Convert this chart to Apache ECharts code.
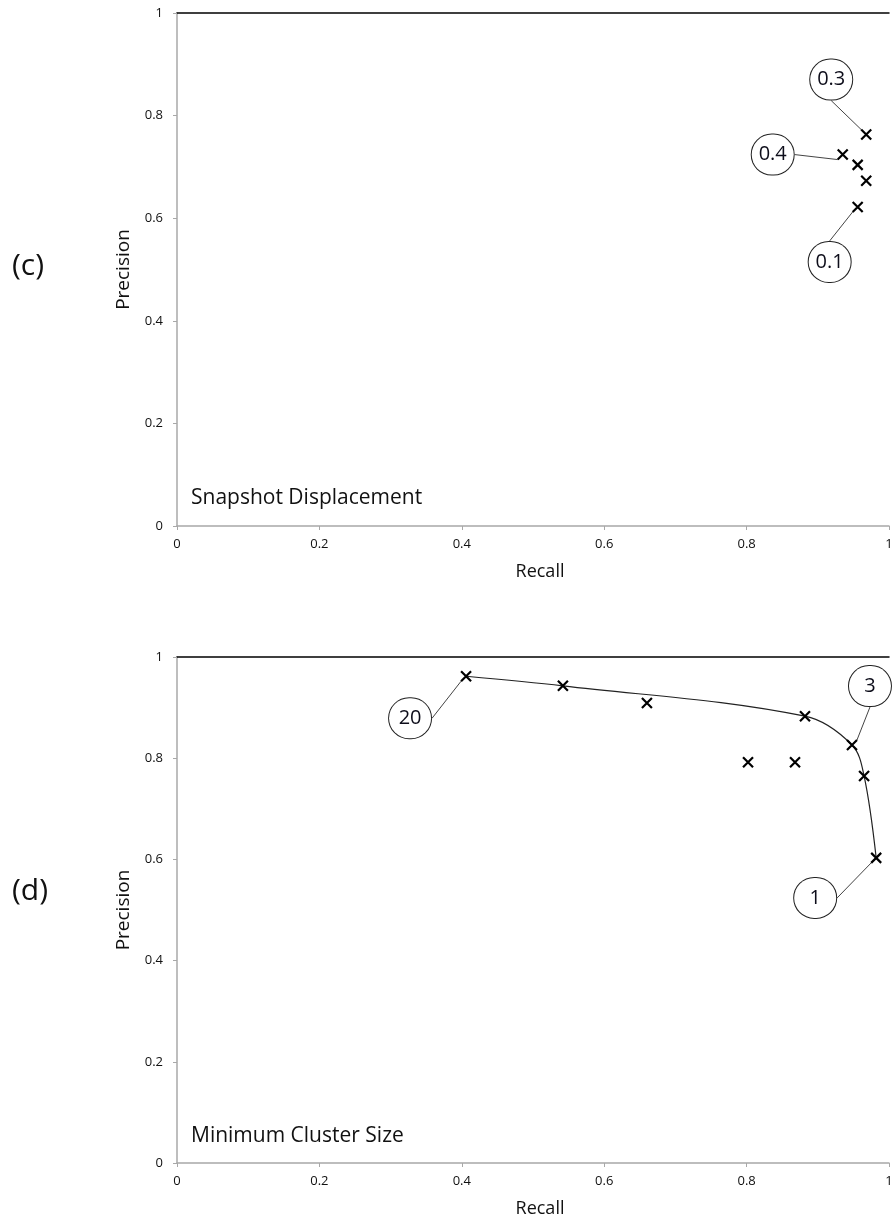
<!DOCTYPE html>
<html>
<head>
<meta charset="utf-8">
<script src="https://cdn.jsdelivr.net/npm/echarts@6/dist/echarts.min.js"></script>
<style>
  html, body { margin: 0; padding: 0; background: #fff; }
  #chart { width: 896px; height: 1224px; }
</style>
</head>
<body>
<div id="chart"></div>
<script>
// ---- data ----
const axisTicks = [0, 0.2, 0.4, 0.6, 0.8, 1];

// (c) Snapshot Displacement
const snapRecall    = [0.968, 0.935, 0.956, 0.968, 0.956];
const snapPrecision = [0.763, 0.724, 0.704, 0.673, 0.622];
const snapLabels    = ['0.3', '0.4', '', '', '0.1'];

// (d) Minimum Cluster Size
const clusRecall    = [0.406, 0.542, 0.660, 0.882, 0.948, 0.965, 0.982, 0.802, 0.868];
const clusPrecision = [0.962, 0.943, 0.909, 0.883, 0.826, 0.765, 0.603, 0.792, 0.792];
const clusLabels    = ['20', '', '', '', '3', '', '1', '', ''];

// trend curve drawn through (d)
const curveRecall    = [0.406, 0.542, 0.882, 0.948, 0.965, 0.982];
const curvePrecision = [0.962, 0.943, 0.883, 0.826, 0.765, 0.603];

// ---- layout (label callout offsets in px, keyed by label) ----
const calloutOffset = {
  '0.3': [-35, -55], '0.4': [-70, 0], '0.1': [-28, 55],
  '20': [-56, 42], '3': [18, -59], '1': [-61, 40]
};

const FONT = 'Open Sans';
const TXT = '#111';
const AXIS_GREY = '#a8a8a8';

function pts(xs, ys, labels) {
  return xs.map((x, i) => {
    const item = { value: [x, ys[i]] };
    if (labels && labels[i]) {
      item.name = labels[i];
      item.label = { show: true };
    }
    return item;
  });
}

function xAxisBottom(gridIndex) {
  return {
    gridIndex, type: 'value', position: 'bottom',
    min: axisTicks[0], max: axisTicks[axisTicks.length - 1],
    interval: axisTicks[1] - axisTicks[0],
    name: 'Recall', nameLocation: 'middle', nameGap: 37,
    nameTextStyle: { fontFamily: FONT, fontSize: 18, color: TXT, padding: [0, 0, 0, 14] },
    axisLine: { show: true, lineStyle: { color: AXIS_GREY, width: 1.5 } },
    axisTick: { show: true, inside: false, length: 4, lineStyle: { color: AXIS_GREY } },
    axisLabel: { fontFamily: FONT, fontSize: 13, color: TXT, margin: 12 },
    splitLine: { show: false }
  };
}
function xAxisTop(gridIndex) {
  return {
    gridIndex, type: 'value', position: 'top',
    min: axisTicks[0], max: axisTicks[axisTicks.length - 1],
    axisLine: { show: true, lineStyle: { color: '#000', width: 1.5 } },
    axisTick: { show: false }, axisLabel: { show: false }, splitLine: { show: false }
  };
}
function yAxis(gridIndex) {
  return {
    gridIndex, type: 'value',
    min: axisTicks[0], max: axisTicks[axisTicks.length - 1],
    interval: axisTicks[1] - axisTicks[0],
    name: 'Precision', nameLocation: 'middle', nameGap: 44, nameRotate: 90,
    nameTextStyle: { fontFamily: FONT, fontSize: 19, color: TXT },
    axisLine: { show: true, lineStyle: { color: AXIS_GREY, width: 1.5 } },
    axisTick: { show: true, inside: false, length: 4, lineStyle: { color: AXIS_GREY } },
    axisLabel: { fontFamily: FONT, fontSize: 13, color: TXT, margin: 14 },
    splitLine: { show: false }
  };
}

const crossSymbol = 'path://M0,0L10,10M10,0L0,10';

function scatterSeries(xIdx, yIdx, data) {
  return {
    type: 'scatter', xAxisIndex: xIdx, yAxisIndex: yIdx,
    symbol: crossSymbol, symbolSize: 10,
    itemStyle: { color: 'rgba(0,0,0,0)', borderColor: '#000', borderWidth: 2.2, opacity: 1 },
    data,
    label: {
      show: false, position: 'inside',
      formatter: p => p.name,
      fontFamily: FONT, fontSize: 20, color: '#0d0d1a',
      textBorderWidth: 0, textBorderColor: 'transparent',
      backgroundColor: '#fff', borderColor: '#222', borderWidth: 1,
      width: 42, height: 40, lineHeight: 40, borderRadius: 21,
      align: 'center', verticalAlign: 'middle', padding: 0
    },
    labelLine: { show: true, lineStyle: { color: '#444', width: 1, opacity: 1 } },
    labelLayout: params => {
      const off = calloutOffset[params.text];
      return off ? { dx: off[0], dy: off[1] } : {};
    },
    z: 3
  };
}

const chart = echarts.init(document.getElementById('chart'), null, { renderer: 'canvas' });
chart.setOption({
  animation: false,
  backgroundColor: '#fff',
  grid: [
    { left: 177, top: 13, right: 7, height: 513 },
    { left: 177, top: 657, right: 7, height: 506 }
  ],
  xAxis: [xAxisBottom(0), xAxisTop(0), xAxisBottom(1), xAxisTop(1)],
  yAxis: [yAxis(0), yAxis(1)],
  graphic: [
    { type: 'text', left: 12, top: 251, style: { text: '(c)', font: '30px "Open Sans"', fill: TXT } },
    { type: 'text', left: 12, top: 876, style: { text: '(d)', font: '30px "Open Sans"', fill: TXT } },
    { type: 'text', left: 191, top: 488, style: { text: 'Snapshot Displacement', font: '21px "Open Sans"', fill: TXT } },
    { type: 'text', left: 191, top: 1126, style: { text: 'Minimum Cluster Size', font: '21px "Open Sans"', fill: TXT } }
  ],
  series: [
    scatterSeries(0, 0, pts(snapRecall, snapPrecision, snapLabels)),
    {
      type: 'line', xAxisIndex: 2, yAxisIndex: 1,
      data: curveRecall.map((x, i) => [x, curvePrecision[i]]),
      smooth: 0.35, showSymbol: false, symbol: 'none',
      lineStyle: { color: '#222', width: 1.2 }, z: 2
    },
    scatterSeries(2, 1, pts(clusRecall, clusPrecision, clusLabels))
  ]
});
</script>
</body>
</html>
